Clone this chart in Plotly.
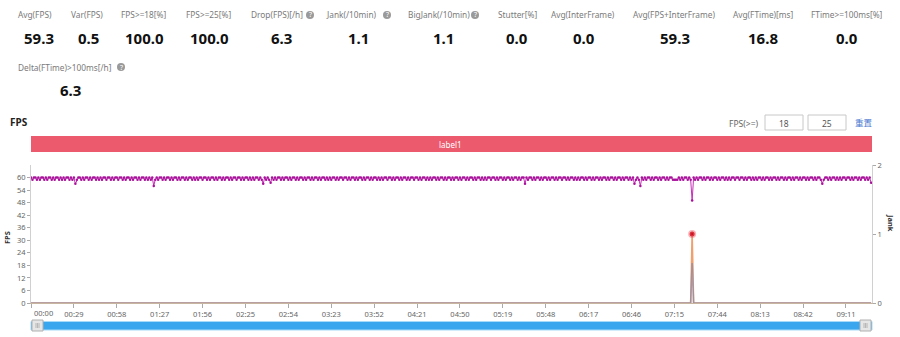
import plotly.graph_objects as go

# ---------------- data ----------------
metric_names = ["Avg(FPS)", "Var(FPS)", "FPS>=18[%]", "FPS>=25[%]", "Drop(FPS)[/h]",
                "Jank(/10min)", "BigJank(/10min)", "Stutter[%]", "Avg(InterFrame)",
                "Avg(FPS+InterFrame)", "Avg(FTime)[ms]", "FTime>=100ms[%]",
                "Delta(FTime)>100ms[/h]"]
metric_values = ["59.3", "0.5", "100.0", "100.0", "6.3", "1.1", "1.1", "0.0", "0.0",
                 "59.3", "16.8", "0.0", "6.3"]
metric_help = [False, False, False, False, True, True, True, False, False, False,
               False, False, True]

x_tick_seconds = [0, 29, 58, 87, 116, 145, 174, 203, 232, 261, 290, 319, 348, 377,
                  406, 435, 464, 493, 522, 551]
x_tick_labels = ["00:00", "00:29", "00:58", "01:27", "01:56", "02:25", "02:54", "03:23",
                 "03:52", "04:21", "04:50", "05:19", "05:48", "06:17", "06:46", "07:15",
                 "07:44", "08:13", "08:42", "09:11"]
fps_ticks = [0, 6, 12, 18, 24, 30, 36, 42, 48, 54, 60]
jank_ticks = [0, 1, 2]

# FPS, one sample per second (00:00 .. 09:28)
fps = [
    60, 59, 60, 60, 59, 60, 59, 60, 60, 59, 60, 59, 60, 60, 59, 60, 59, 60, 60, 59,
    60, 59, 60, 59, 60, 60, 59, 60, 59, 60, 57, 59, 60, 60, 59, 60, 59, 60, 60, 59,
    60, 59, 60, 60, 59, 60, 59, 60, 59, 60, 60, 59, 60, 60, 59, 60, 59, 60, 60, 59,
    60, 60, 59, 60, 59, 60, 60, 59, 60, 59, 60, 60, 59, 60, 59, 60, 60, 59, 60, 59,
    60, 59, 60, 56, 59, 60, 59, 60, 60, 59, 60, 59, 60, 60, 59, 60, 59, 60, 60, 59,
    60, 59, 60, 60, 59, 60, 59, 60, 60, 59, 60, 59, 60, 59, 60, 60, 59, 60, 60, 59,
    60, 59, 60, 60, 59, 60, 59, 60, 60, 59, 60, 59, 60, 60, 59, 60, 59, 60, 60, 59,
    60, 60, 59, 60, 59, 60, 60, 59, 60, 59, 60, 59, 60, 60, 59, 60, 59, 57, 60, 59,
    60, 59, 57.5, 60, 59, 60, 59, 60, 60, 59, 60, 59, 60, 60, 59, 60, 59, 60, 60, 59,
    60, 59, 60, 60, 59, 60, 59, 60, 60, 59, 60, 59, 60, 60, 59, 60, 59, 60, 60, 59,
    60, 59, 60, 59, 60, 60, 59, 60, 59, 60, 60, 59, 60, 60, 59, 60, 59, 60, 60, 59,
    60, 59, 60, 60, 59, 60, 59, 60, 60, 59, 60, 59, 60, 60, 59, 60, 59, 60, 59, 60,
    60, 59, 60, 60, 59, 60, 59, 60, 60, 59, 60, 59, 60, 60, 59, 60, 59, 60, 60, 59,
    60, 60, 59, 60, 59, 60, 60, 59, 60, 59, 60, 59, 60, 60, 59, 60, 59, 60, 60, 59,
    60, 59, 60, 60, 59, 60, 59, 60, 60, 59, 60, 59, 60, 60, 59, 60, 59, 60, 60, 59,
    60, 59, 60, 60, 59, 60, 59, 60, 59, 60, 60, 59, 60, 60, 59, 60, 59, 60, 60, 59,
    60, 59, 60, 60, 59, 60, 59, 60, 60, 59, 60, 59, 60, 60, 57, 60, 59, 60, 60, 59,
    60, 59, 60, 60, 59, 60, 59, 60, 60, 59, 60, 59, 60, 60, 59, 60, 59, 60, 60, 59,
    60, 60, 59, 60, 59, 60, 60, 59, 60, 59, 60, 59, 60, 60, 59, 60, 59, 60, 60, 59,
    60, 59, 60, 60, 59, 60, 59, 60, 60, 59, 60, 59, 60, 60, 59, 60, 59, 60, 60, 59,
    60, 59, 60, 60, 59, 60, 59, 60, 57, 59, 60, 59, 56, 60, 59, 60, 59, 60, 60, 59,
    60, 59, 60, 60, 59, 60, 59, 60, 60, 59, 60, 59, 60, 60, 59, 59, 59, 59, 60, 59,
    60, 59, 60, 60, 59, 60, 59, 49, 60, 59, 60, 59, 60, 60, 59, 60, 59, 60, 60, 59,
    60, 59, 60, 60, 59, 60, 59, 60, 60, 59, 60, 59, 60, 59, 60, 60, 59, 60, 60, 59,
    60, 60, 59, 60, 59, 60, 60, 59, 60, 59, 60, 59, 60, 60, 59, 60, 59, 60, 60, 59,
    60, 59, 60, 60, 59, 60, 59, 60, 60, 59, 60, 59, 60, 60, 59, 60, 59, 60, 60, 59,
    60, 59, 60, 60, 59, 60, 59, 60, 60, 59, 60, 59, 60, 60, 59, 57, 59, 60, 60, 59,
    60, 59, 60, 60, 59, 60, 59, 60, 59, 60, 60, 59, 60, 60, 59, 60, 59, 60, 60, 59,
    60, 59, 60, 60, 59, 60, 59, 60, 57.5,
]
fps_seconds = list(range(len(fps)))

jank_seconds = [0, 446, 447, 448, 568]
jank_values = [0, 0, 1, 0, 0]
bigjank_seconds = [0, 446, 447, 448, 568]
bigjank_values = [0, 0, 0.58, 0, 0]

# ---------------- layout helpers ----------------
W, H = 900, 337


def px(x):
    return x / W


def py(y):
    return 1 - y / H


FONT = "Noto Sans, Open Sans, sans-serif"
PLOT_L, PLOT_R, PLOT_T, PLOT_B = 31, 872, 165, 303

label_cx = [35, 87, 143, 208, 277, 351, 439, 517, 583, 674, 763, 847, 65]
label_cy = [15] * 12 + [67]
value_cx = [39, 88, 144, 209, 281, 358, 443, 517, 584, 675, 763, 847, 70]
value_cy = [38] * 12 + [90]
help_cx = {4: 310, 5: 387, 6: 475, 12: 121}

fig = go.Figure()

fig.add_trace(go.Scatter(
    x=fps_seconds, y=fps, mode="lines+markers", name="FPS",
    line=dict(color="#c62fb8", width=1),
    marker=dict(size=2.5, color="#a8129a"),
    yaxis="y", hoverinfo="skip", showlegend=False))
fig.add_trace(go.Scatter(
    x=jank_seconds, y=jank_values, mode="lines", name="Jank",
    line=dict(color="#eea06e", width=1.6),
    yaxis="y2", hoverinfo="skip", showlegend=False))
fig.add_trace(go.Scatter(
    x=bigjank_seconds, y=bigjank_values, mode="lines", name="BigJank",
    line=dict(color="rgba(125,135,180,0.65)", width=1.6),
    yaxis="y2", hoverinfo="skip", showlegend=False))
peak = jank_values.index(max(jank_values))
fig.add_trace(go.Scatter(
    x=[jank_seconds[peak]], y=[jank_values[peak]], mode="markers",
    marker=dict(size=5, color="#c8101e", line=dict(width=3, color="rgba(240,90,100,0.45)")),
    yaxis="y2", hoverinfo="skip", showlegend=False))

annotations = []
shapes = []

for i, name in enumerate(metric_names):
    annotations.append(dict(x=px(label_cx[i]), y=py(label_cy[i]), xref="paper", yref="paper",
                            text=name, showarrow=False, xanchor="center", yanchor="middle",
                            font=dict(family=FONT, size=8.3, color="#7a7a7a")))
    annotations.append(dict(x=px(value_cx[i]), y=py(value_cy[i]), xref="paper", yref="paper",
                            text="<b>%s</b>" % metric_values[i], showarrow=False,
                            xanchor="center", yanchor="middle",
                            font=dict(family=FONT, size=15, color="#111111")))
    if metric_help[i]:
        cx = help_cx[i]
        cy = label_cy[i]
        shapes.append(dict(type="circle", xref="paper", yref="paper",
                           x0=px(cx - 4), x1=px(cx + 4), y0=py(cy + 4), y1=py(cy - 4),
                           fillcolor="#9a9a9a", line=dict(width=0)))
        annotations.append(dict(x=px(cx), y=py(cy), xref="paper", yref="paper", text="?",
                                showarrow=False, xanchor="center", yanchor="middle",
                                font=dict(family=FONT, size=7, color="white")))

# chart title
annotations.append(dict(x=px(8), y=py(122), xref="paper", yref="paper", text="<b>FPS</b>",
                        showarrow=False, xanchor="left", yanchor="middle",
                        font=dict(family=FONT, size=10, color="#222")))
# threshold inputs
annotations.append(dict(x=px(743), y=py(123), xref="paper", yref="paper", text="FPS(>=)",
                        showarrow=False, xanchor="center", yanchor="middle",
                        font=dict(family=FONT, size=8.5, color="#666")))
for (x0, x1, txt) in [(765, 803, "18"), (808, 846, "25")]:
    shapes.append(dict(type="rect", xref="paper", yref="paper", x0=px(x0), x1=px(x1),
                       y0=py(130), y1=py(115), fillcolor="white",
                       line=dict(color="#c8c8c8", width=1)))
    annotations.append(dict(x=px((x0 + x1) / 2), y=py(123), xref="paper", yref="paper",
                            text=txt, showarrow=False, xanchor="center", yanchor="middle",
                            font=dict(family=FONT, size=8.5, color="#555")))
annotations.append(dict(x=px(864), y=py(122), xref="paper", yref="paper", text="重置",
                        showarrow=False, xanchor="center", yanchor="middle",
                        font=dict(family="Noto Sans CJK SC", size=8.5, color="#4a78d0")))

# label bar
shapes.append(dict(type="rect", xref="paper", yref="paper", x0=px(PLOT_L), x1=px(PLOT_R),
                   y0=py(152), y1=py(136), fillcolor="#ec5a6e", line=dict(width=0)))
annotations.append(dict(x=px(451), y=py(144), xref="paper", yref="paper", text="label1",
                        showarrow=False, xanchor="center", yanchor="middle",
                        font=dict(family=FONT, size=8, color="white")))

# axis titles
annotations.append(dict(x=px(7), y=py(238), xref="paper", yref="paper", text="<b>FPS</b>",
                        showarrow=False, xanchor="center", yanchor="middle", textangle=-90,
                        font=dict(family=FONT, size=7.5, color="#333")))
annotations.append(dict(x=px(891), y=py(223), xref="paper", yref="paper", text="<b>Jank</b>",
                        showarrow=False, xanchor="center", yanchor="middle", textangle=90,
                        font=dict(family=FONT, size=7.5, color="#333")))

# first x tick label is kept inside the plot (shifted right), as in the source chart
tick_text_shown = [""] + x_tick_labels[1:]
annotations.append(dict(x=x_tick_seconds[0], y=py(313), xref="x", yref="paper",
                        text=x_tick_labels[0], showarrow=False, xanchor="left",
                        yanchor="middle", xshift=1,
                        font=dict(family=FONT, size=7.5, color="#666")))

# zoom slider
shapes.append(dict(type="rect", xref="paper", yref="paper", x0=px(PLOT_L), x1=px(PLOT_R),
                   y0=py(330), y1=py(321.5), fillcolor="#3aa6ee",
                   line=dict(color="#a8dafa", width=1)))
for (x0, x1) in [(32, 43), (860, 871)]:
    shapes.append(dict(type="rect", xref="paper", yref="paper", x0=px(x0), x1=px(x1),
                       y0=py(331), y1=py(320), fillcolor="#e6e6e6",
                       line=dict(color="#b0b0b0", width=1)))
    for dx in (-1.5, 0, 1.5):
        xm = (x0 + x1) / 2 + dx
        shapes.append(dict(type="line", xref="paper", yref="paper", x0=px(xm), x1=px(xm),
                           y0=py(328), y1=py(323), line=dict(color="#999", width=0.6)))

fig.update_layout(
    width=W, height=H, autosize=False,
    margin=dict(l=0, r=0, t=0, b=0),
    paper_bgcolor="white", plot_bgcolor="white",
    showlegend=False,
    xaxis=dict(domain=[px(PLOT_L), px(PLOT_R)], range=[0, 568.6],
               tickmode="array", tickvals=x_tick_seconds, ticktext=tick_text_shown,
               ticks="outside", ticklen=4, tickcolor="#aaa",
               showline=True, linecolor="#c9b6a0", linewidth=1,
               showgrid=False, zeroline=False, automargin=False,
               tickfont=dict(family=FONT, size=7.5, color="#666")),
    yaxis=dict(domain=[py(PLOT_B), py(PLOT_T)], range=[0, 66],
               tickmode="array", tickvals=fps_ticks,
               ticks="outside", ticklen=3, tickcolor="#aaa",
               showline=True, linecolor="#d0d0d0", linewidth=1,
               showgrid=False, zeroline=False, automargin=False,
               tickfont=dict(family=FONT, size=7.5, color="#666")),
    yaxis2=dict(overlaying="y", side="right", range=[0, 2],
                tickmode="array", tickvals=jank_ticks,
                ticks="outside", ticklen=3, tickcolor="#aaa",
                showline=True, linecolor="#d0d0d0", linewidth=1,
                showgrid=False, zeroline=False, automargin=False,
                tickfont=dict(family=FONT, size=7.5, color="#666")),
    annotations=annotations,
    shapes=shapes,
)

fig.write_html("out.html")
